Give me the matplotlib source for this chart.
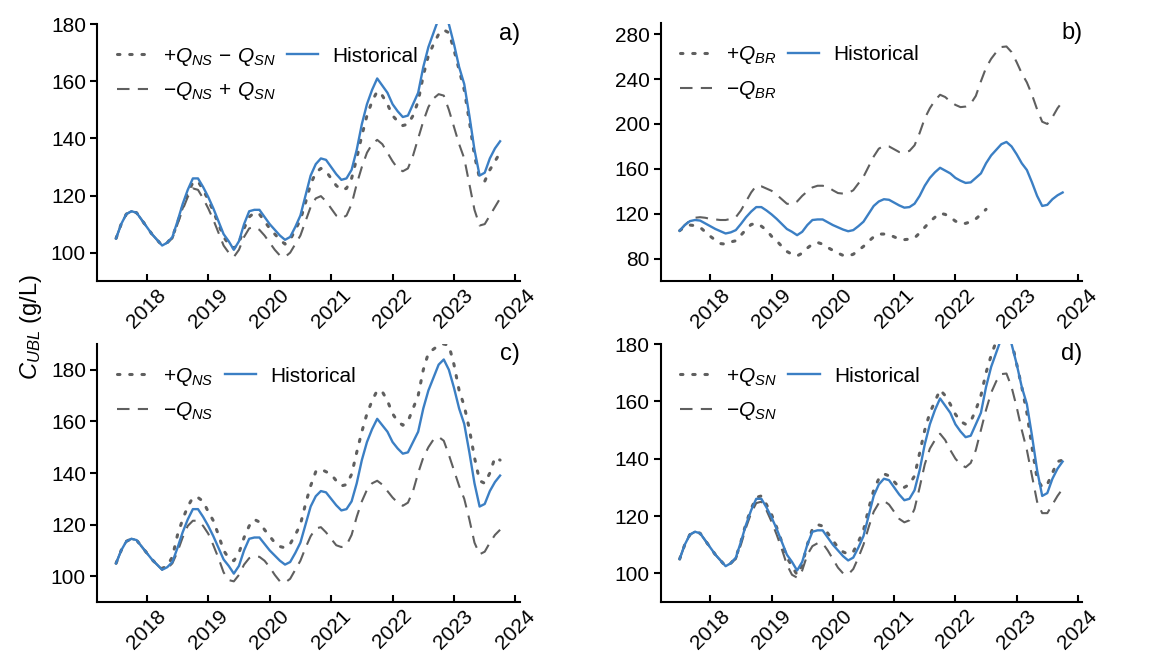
import numpy as np
import matplotlib
matplotlib.use('Agg')
import matplotlib.pyplot as plt

plt.rcParams['font.family'] = ['Liberation Sans', 'DejaVu Sans']
plt.rcParams['mathtext.fontset'] = 'custom'
plt.rcParams['mathtext.rm'] = 'Liberation Sans'
plt.rcParams['mathtext.it'] = 'Liberation Sans:italic'
plt.rcParams['font.size'] = 15

# monthly time axis, decimal years
t = 2017.5 + np.arange(76) / 12

hist = [105, 110, 113.5, 114.5, 114, 111.5, 109, 106.5, 104.5, 102.5, 103.5, 105.5,
        111, 117, 122, 126, 126, 123, 119.5, 115.5, 111, 106.5, 104, 101,
        104, 110, 114.5, 115, 115, 112.5, 110, 108, 106, 104.5, 105.5, 109,
        113, 120, 127, 131, 133, 132.5, 130, 127.5, 125.5, 126, 129, 136,
        145, 152, 157, 161, 158.5, 156, 152, 149.5, 147.5, 148, 152, 156,
        165, 172, 177, 182, 184, 180, 173, 165, 159, 148, 136, 127,
        128, 133, 136.5, 139]

# a) +Q_NS - Q_SN / -Q_NS + Q_SN
a_plus = [105, 110, 113.5, 114.5, 114, 111.5, 109, 106.5, 104.5, 102.5, 103.5, 105.5,
          110.5, 116, 121, 124.5, 125, 122, 118.5, 114.5, 110, 105.5, 103, 101.5,
          103.5, 108.5, 112.5, 114, 113.5, 111, 108.5, 106.5, 104.5, 103, 104.5, 108,
          111.5, 117.5, 124, 128, 129.5, 128.5, 126, 123.5, 122, 122.5, 126, 133,
          141, 148, 153, 156.5, 155, 152, 148, 146, 144.5, 145, 148, 153,
          162, 169, 173, 176.5, 178, 177, 171, 164, 157, 146, 134, 126,
          125, 129, 132, 135]
a_minus = [105, 110, 113.5, 114.5, 114, 111.5, 109, 106.5, 104.5, 102.5, 103.5, 105,
           110, 115, 119.5, 122.5, 122, 119, 115.5, 111.5, 107, 102.5, 100, 98.5,
           101, 105.5, 108.5, 109, 108, 106, 103.5, 101, 99, 98.5, 100, 103,
           106, 111, 116, 119, 119.8, 118, 115.5, 113, 112, 113, 117, 124,
           130, 135, 138, 139.5, 138, 135, 132, 129.5, 128.5, 129.5, 134, 140,
           146, 151, 154, 155.5, 155, 150, 144, 138, 133, 124, 115, 109.5,
           110, 113, 116, 119]

# b) +Q_BR / -Q_BR
b_plus = [105, 108.5, 110, 109.5, 108, 104, 100, 96.5, 93.5, 93, 95, 96,
          101, 106, 110.5, 111.5, 109, 105.5, 100, 96, 91, 86.5, 84, 82.5,
          85, 89.5, 93, 94.5, 93, 90, 87.5, 85, 83, 82.5, 84, 87.5,
          91, 95.5, 99.5, 102, 102, 101.5, 99.5, 97.5, 97, 97.5, 98.5, 103,
          108, 113, 117, 120.5, 119.5, 117, 113.5, 111.5, 111.5, 113, 115.5, 119.5,
          124, np.nan, np.nan, np.nan, np.nan, np.nan, np.nan, np.nan, np.nan, np.nan, np.nan, np.nan,
          np.nan, np.nan, np.nan, np.nan]
b_minus = [105, 110, 114, 116.5, 117, 116.5, 115.5, 115, 114.5, 114.5, 115.5, 117,
           123, 131, 139, 145, 144.5, 142.5, 140.5, 137, 133, 129, 128.5, 131,
           136, 140, 143.5, 145, 145, 144, 141, 138.5, 138, 138.5, 141, 147,
           153, 162, 171, 178, 180.5, 180, 177.5, 175, 175, 176, 181, 192,
           205, 214, 221, 226, 224, 220, 217, 215, 215.5, 218, 225, 238,
           250, 258, 264, 268.5, 269, 264, 255, 245, 237, 226, 213, 202,
           200, 206, 214, 220]

# c) +Q_NS / -Q_NS
c_plus = [105, 110, 113.5, 114.5, 114, 111.5, 109, 106.5, 104.5, 103, 104, 107.5,
          116, 122, 127, 130.5, 130.5, 129, 125, 121.5, 116, 110, 107, 106,
          109, 115, 119.5, 122, 121, 118, 115.5, 113, 111.5, 111, 112.5, 116,
          120, 128, 135, 140.5, 141.5, 140.5, 139.5, 137, 135, 135.5, 139.5, 148,
          156, 163, 168, 172, 171.5, 168, 163, 160, 158.5, 160, 165, 170,
          180, 186.5, 188, 189.5, 190, 189.5, 182, 172, 166, 157, 146, 137,
          136, 140, 146, 145]
c_minus = [105, 110, 113.5, 114.5, 114, 111.5, 109, 106.5, 104.5, 102.5, 103, 105,
           109.5, 115, 119.5, 121.5, 121.5, 119.5, 116.5, 112, 107, 101.5, 98.5, 98,
           100.5, 104.5, 107, 107.8, 107.5, 106, 103.5, 100.5, 98, 97.5, 99, 102.5,
           106, 111, 115.5, 118.5, 119, 117, 114.5, 112, 111.3, 112, 116, 123,
           129, 133.5, 136, 137, 135.5, 133, 130.5, 128.5, 127.3, 128.5, 133, 140,
           146, 150, 153, 154, 152.5, 147, 141, 135, 130, 122, 113, 108.5,
           109.5, 113, 116, 118]

# d) +Q_SN / -Q_SN
d_plus = [105, 110, 113.5, 114.5, 114, 111.5, 109, 106.5, 104.5, 102.5, 103.5, 105.5,
          111, 117.5, 122.5, 126.5, 127, 124, 120.5, 116, 111, 105.5, 102.5, 99.5,
          103, 110, 115.5, 117, 116.5, 114, 111.5, 109, 107.5, 106.7, 107.5, 111,
          115, 122.5, 129, 133, 134.7, 134, 132, 130, 130, 131, 134, 142,
          150, 156, 160, 164, 162, 159, 155.5, 153, 152, 153, 157, 162,
          170, 176, 181, 185, 185, 181, 173, 165, 156, 144, 133, 130,
          131, 135, 139, 139.5]
d_minus = [105, 110, 113.5, 114.5, 114, 111.5, 109, 106.5, 104.5, 102.5, 103.5, 105,
           110, 116, 121, 124.5, 125, 122, 118, 113.5, 108.5, 103, 99.5, 98.5,
           101, 106.5, 109.5, 110.5, 110.5, 108, 105, 102, 100, 99.6, 101.5, 105.5,
           110, 116, 121.5, 124.5, 125.3, 124, 121.5, 119, 117.8, 118.5, 122.5, 130,
           138, 143.5, 146.5, 148.7, 146.5, 143, 140, 138, 137, 138.5, 143, 150,
           157, 163, 167, 169.5, 169.7, 165, 158, 150, 143, 134, 125, 121,
           121, 124, 127, 129.5]

panels = [
    ('a)', a_plus, a_minus, r'$+Q_{NS}\,-\,Q_{SN}$', r'$-Q_{NS}\,+\,Q_{SN}$', (90, 180), [100, 120, 140, 160, 180]),
    ('b)', b_plus, b_minus, r'$+Q_{BR}$', r'$-Q_{BR}$', (60, 290), [80, 120, 160, 200, 240, 280]),
    ('c)', c_plus, c_minus, r'$+Q_{NS}$', r'$-Q_{NS}$', (90, 190), [100, 120, 140, 160, 180]),
    ('d)', d_plus, d_minus, r'$+Q_{SN}$', r'$-Q_{SN}$', (90, 180), [100, 120, 140, 160, 180]),
]

boxes = [
    [0.084, 0.570, 0.366, 0.393],
    [0.572, 0.570, 0.365, 0.395],
    [0.084, 0.0795, 0.366, 0.3945],
    [0.572, 0.0795, 0.365, 0.3945],
]

blue = '#3b7fc4'
grey = '#5f5f5f'

fig = plt.figure(figsize=(11.55, 6.54), dpi=100)

for (tag, plus, minus, lp, lm, ylim, yt), box in zip(panels, boxes):
    ax = fig.add_axes(box)
    l1, = ax.plot(t, plus, color=grey, lw=2.2, linestyle=(0, (0.8, 3.2)),
                  dash_capstyle='round', label=lp)
    l2, = ax.plot(t, minus, color=grey, lw=1.5, linestyle=(0, (6, 4)), label=lm)
    l3, = ax.plot(t, hist, color=blue, lw=1.7, label='Historical')

    ax.set_xlim(2017.19, 2024.07)
    ax.set_ylim(*ylim)
    ax.set_yticks(yt)
    ax.set_xticks(range(2018, 2025))
    ax.set_xticklabels([str(y) for y in range(2018, 2025)], rotation=45)
    ax.tick_params(axis='x', direction='in', length=5, width=1.5, pad=3)
    ax.tick_params(axis='y', direction='out', length=5, width=1.5, pad=3)
    ax.spines['top'].set_visible(False)
    ax.spines['right'].set_visible(False)
    for s in ('left', 'bottom'):
        ax.spines[s].set_linewidth(1.5)

    ax.legend(handles=[l1, l2, l3], ncol=2, loc='upper left', frameon=False,
              bbox_to_anchor=(0.017, 0.965), borderaxespad=0.2, handlelength=1.5,
              handletextpad=0.7, columnspacing=0.55, labelspacing=0.6, fontsize=15)
    ax.text(1.0, 0.96, tag, transform=ax.transAxes, ha='right', va='center', fontsize=17)

fig.text(0.027, 0.5, r'$C_{UBL}$ (g/L)', rotation=90, ha='center', va='center', fontsize=17)

fig.savefig('out.png', dpi=100)
